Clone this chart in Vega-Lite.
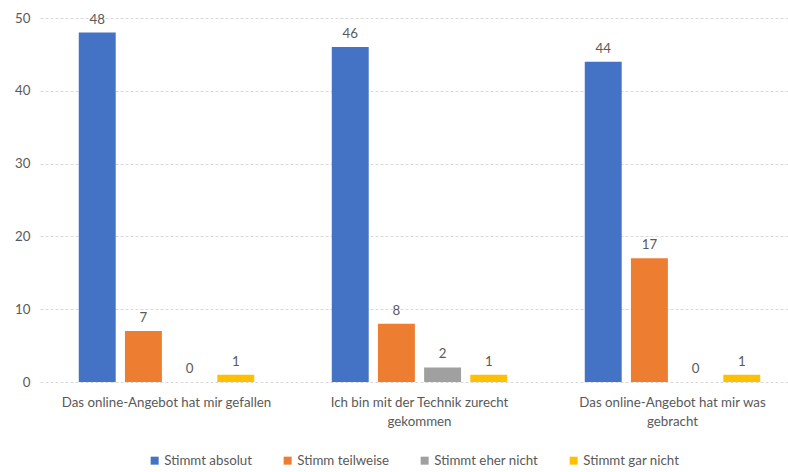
{
  "$schema": "https://vega.github.io/schema/vega-lite/v6.json",
  "width": 759,
  "height": 364,
  "autosize": {"type": "none"},
  "padding": {"left": 40, "top": 18, "right": 0, "bottom": 90},
  "background": "white",
  "config": {
    "view": {"stroke": null},
    "font": "Lato",
    "axis": {"labelFont": "Lato", "labelColor": "#595959", "labelFontSize": 13.3}
  },
  "data": {
    "values": [
      {"frage": "Das online-Angebot hat mir gefallen", "antwort": "Stimmt absolut", "anzahl": 48},
      {"frage": "Das online-Angebot hat mir gefallen", "antwort": "Stimm teilweise", "anzahl": 7},
      {"frage": "Das online-Angebot hat mir gefallen", "antwort": "Stimmt eher nicht", "anzahl": 0},
      {"frage": "Das online-Angebot hat mir gefallen", "antwort": "Stimmt gar nicht", "anzahl": 1},
      {"frage": "Ich bin mit der Technik zurecht gekommen", "antwort": "Stimmt absolut", "anzahl": 46},
      {"frage": "Ich bin mit der Technik zurecht gekommen", "antwort": "Stimm teilweise", "anzahl": 8},
      {"frage": "Ich bin mit der Technik zurecht gekommen", "antwort": "Stimmt eher nicht", "anzahl": 2},
      {"frage": "Ich bin mit der Technik zurecht gekommen", "antwort": "Stimmt gar nicht", "anzahl": 1},
      {"frage": "Das online-Angebot hat mir was gebracht", "antwort": "Stimmt absolut", "anzahl": 44},
      {"frage": "Das online-Angebot hat mir was gebracht", "antwort": "Stimm teilweise", "anzahl": 17},
      {"frage": "Das online-Angebot hat mir was gebracht", "antwort": "Stimmt eher nicht", "anzahl": 0},
      {"frage": "Das online-Angebot hat mir was gebracht", "antwort": "Stimmt gar nicht", "anzahl": 1}
    ]
  },
  "encoding": {
    "x": {
      "field": "frage", "type": "nominal", "sort": null,
      "scale": {"paddingInner": 0.27, "paddingOuter": 0.135},
      "axis": {
        "title": null, "labelAngle": 0, "ticks": false, "domain": false,
        "labelPadding": 13, "labelLineHeight": 19, "labelLimit": 0,
        "labelExpr": "datum.label == 'Ich bin mit der Technik zurecht gekommen' ? ['Ich bin mit der Technik zurecht', 'gekommen'] : datum.label == 'Das online-Angebot hat mir was gebracht' ? ['Das online-Angebot hat mir was', 'gebracht'] : datum.label"
      }
    },
    "xOffset": {
      "field": "antwort", "type": "nominal", "sort": null,
      "scale": {"paddingInner": 0.2, "paddingOuter": 0.1}
    },
    "y": {
      "field": "anzahl", "type": "quantitative",
      "scale": {"domain": [0, 50]},
      "axis": {
        "title": null, "values": [0, 10, 20, 30, 40, 50], "labelOverlap": false,
        "ticks": false, "domain": false, "labelPadding": 10,
        "gridColor": "#D9D9D9", "gridDash": [3, 2], "gridWidth": 1
      }
    }
  },
  "layer": [
    {
      "mark": {"type": "bar"},
      "encoding": {
        "color": {
          "field": "antwort", "type": "nominal", "sort": null,
          "scale": {
            "domain": ["Stimmt absolut", "Stimm teilweise", "Stimmt eher nicht", "Stimmt gar nicht"],
            "range": ["#4472C4", "#ED7D31", "#A0A0A0", "#FFC000"]
          },
          "legend": {
            "title": null, "orient": "none", "direction": "horizontal",
            "legendX": 108, "legendY": 436,
            "symbolType": "square", "symbolSize": 64, "symbolStrokeWidth": 0,
            "labelFont": "Lato", "labelFontSize": 13.3, "labelColor": "#595959",
            "labelOffset": 3, "columnPadding": 28
          }
        }
      }
    },
    {
      "mark": {"type": "text", "baseline": "bottom", "dy": -6, "fontSize": 13.3, "color": "#595959", "font": "Lato"},
      "encoding": {"text": {"field": "anzahl", "type": "quantitative"}}
    }
  ]
}
